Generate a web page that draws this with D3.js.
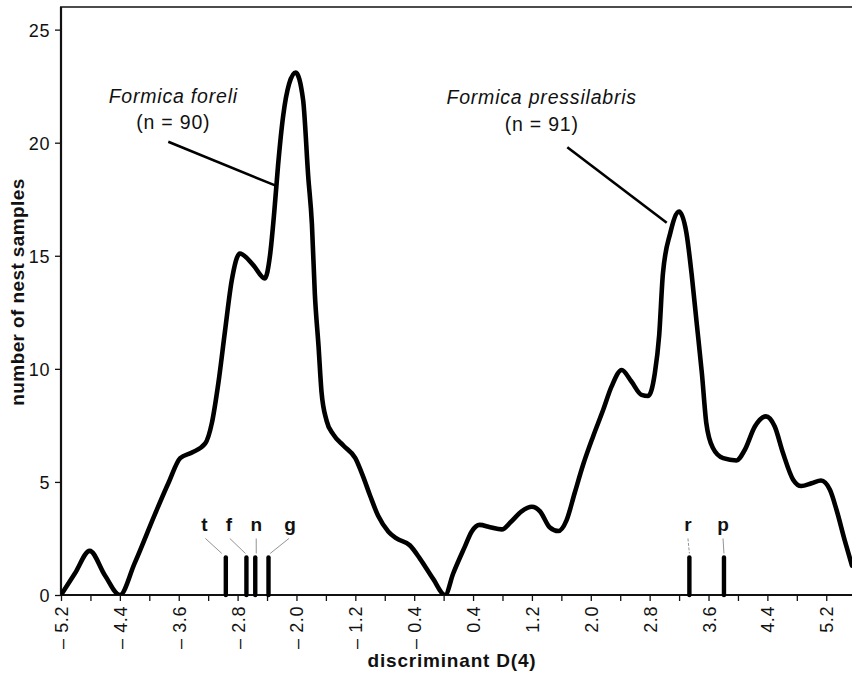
<!DOCTYPE html>
<html>
<head>
<meta charset="utf-8">
<script src="https://cdn.jsdelivr.net/npm/d3@7"></script>
<style>
  html, body { margin: 0; padding: 0; background: #fff; }
  svg { display: block; }
  text { font-family: "Liberation Sans", Arial, Helvetica, sans-serif; fill: #111; }
</style>
</head>
<body>
<svg id="chart" width="852" height="674"></svg>
<script>
// ---------- data ----------
const discriminant = [-5.20, -5.01, -4.81, -4.60, -4.40, -4.20, -3.92, -3.74, -3.58, -3.42, -3.24, -3.15, -3.06, -2.97, -2.88, -2.77,
  -2.59, -2.43, -2.36, -2.30, -2.25, -2.18, -2.10, -2.01, -1.91, -1.84, -1.79, -1.75, -1.70, -1.66, -1.59, -1.50, -1.36,
  -1.20, -1.09, -1.00, -0.89, -0.75, -0.64, -0.46, -0.32, -0.14, 0.02, 0.13, 0.29, 0.38, 0.49, 0.63, 0.79, 0.92, 1.06,
  1.20, 1.31, 1.44, 1.56, 1.67, 1.78, 1.90, 2.03, 2.17, 2.28, 2.42, 2.55, 2.69, 2.78, 2.87, 2.93, 2.98, 3.08, 3.20,
  3.30, 3.37, 3.44, 3.51, 3.57, 3.66, 3.80, 3.98, 4.09, 4.23, 4.38, 4.50, 4.61, 4.75, 4.86, 5.00, 5.13, 5.25, 5.34,
  5.45, 5.55];
const nestSamples = [0, 0.96, 1.95, 0.85, 0, 1.4, 3.6, 4.95, 6.05, 6.3, 6.7, 7.6, 9.4, 11.7, 13.9, 15.1,
  14.6, 14.0, 15.0, 17.0, 19.0, 21.2, 22.6, 23.1, 21.9, 18.5, 16.4, 13.3, 11.0, 9.0, 7.7, 7.1, 6.6,
  6.05, 5.2, 4.4, 3.5, 2.8, 2.5, 2.2, 1.6, 0.7, 0, 0.95, 2.15, 2.8, 3.1, 3.0, 2.9, 3.25, 3.7,
  3.9, 3.7, 3.0, 2.83, 3.3, 4.5, 5.8, 7.0, 8.2, 9.2, 9.95, 9.45, 8.85, 8.8, 9.8, 11.5, 14.2, 16.0, 16.95,
  16.0, 14.2, 12.0, 9.8, 7.6, 6.5, 6.05, 5.95, 6.4, 7.45, 7.9, 7.45, 6.3, 5.1, 4.82, 4.94, 5.06, 4.65, 3.76,
  2.43, 1.3];

const markerNames = ["t", "f", "n", "g", "r", "p"];
const markerValues = [-2.96, -2.68, -2.56, -2.38, 3.34, 3.81];
const markerHeight = 1.66;

const yTicks = [0, 5, 10, 15, 20, 25];
const xTicks = [-5.2, -4.8, -4.4, -4.0, -3.6, -3.2, -2.8, -2.4, -2.0, -1.6, -1.2, -0.8, -0.4, 0.0,
  0.4, 0.8, 1.2, 1.6, 2.0, 2.4, 2.8, 3.2, 3.6, 4.0, 4.4, 4.8, 5.2];
const xTickLabels = ["– 5.2", "– 4.4", "– 3.6", "– 2.8", "– 2.0", "– 1.2", "– 0.4", "0.4", "1.2", "2.0", "2.8", "3.6", "4.4", "5.2"];

const speciesNames = ["Formica foreli", "Formica pressilabris"];
const speciesCounts = ["(n = 90)", "(n = 91)"];

const xTitle = "discriminant D(4)";
const yTitle = "number of nest samples";

// ---------- layout ----------
const mLeft = 61, mRight = 852, mTop = 7, mBottom = 595;
const svg = d3.select("#chart");
const x = d3.scaleLinear().domain([-5.2, 5.55]).range([mLeft, mRight]);
const y = d3.scaleLinear().domain([0, 26]).range([mBottom, mTop]);

svg.append("defs").append("clipPath").attr("id", "plotclip")
  .append("rect").attr("x", mLeft).attr("y", 0).attr("width", mRight - mLeft).attr("height", mBottom);

// ---------- axes ----------
const yAxis = d3.axisLeft(y).tickValues(yTicks).tickSize(6).tickPadding(5).tickFormat(d3.format("d"));
const gy = svg.append("g").attr("transform", `translate(${mLeft},0)`).call(yAxis);
gy.select(".domain").remove();
gy.selectAll(".tick line").attr("stroke", "#111").attr("stroke-width", 1.3);
gy.selectAll(".tick text").attr("font-size", 18).attr("font-family", "Liberation Sans, Arial, sans-serif")
  .attr("fill", "#111").attr("letter-spacing", 0.6).attr("dy", "0.36em");

const labelFor = d3.scaleOrdinal()
  .domain(xTicks.filter((d, i) => i % 2 === 0).map(d => d.toFixed(1)))
  .range(xTickLabels);
const xAxis = d3.axisBottom(x).tickValues(xTicks).tickSize(6)
  .tickFormat((d, i) => i % 2 === 0 ? labelFor(d.toFixed(1)) : "");
const gx = svg.append("g").attr("transform", `translate(0,${mBottom})`).call(xAxis);
gx.select(".domain").remove();
gx.selectAll(".tick line").attr("stroke", "#111").attr("stroke-width", 1.3);
gx.selectAll(".tick text")
  .attr("font-size", 18).attr("font-family", "Liberation Sans, Arial, sans-serif").attr("fill", "#111")
  .attr("letter-spacing", 0.6)
  .attr("text-anchor", "end")
  .attr("transform", "rotate(-90)")
  .attr("x", -11).attr("y", 0).attr("dy", "0.36em");

// frame lines
svg.append("line").attr("x1", mLeft).attr("x2", mRight).attr("y1", mBottom).attr("y2", mBottom)
  .attr("stroke", "#111").attr("stroke-width", 2.2);
svg.append("line").attr("x1", mLeft).attr("x2", mLeft).attr("y1", mTop).attr("y2", mBottom + 1)
  .attr("stroke", "#111").attr("stroke-width", 2.2);
svg.append("line").attr("x1", mLeft - 1).attr("x2", mRight).attr("y1", mTop).attr("y2", mTop)
  .attr("stroke", "#111").attr("stroke-width", 1.6);

// axis titles
svg.append("text").attr("x", 452).attr("y", 667).attr("text-anchor", "middle")
  .attr("font-size", 19).attr("font-weight", "bold").attr("letter-spacing", 0.8).text(xTitle);
svg.append("text").attr("transform", "translate(24,292) rotate(-90)").attr("text-anchor", "middle")
  .attr("font-size", 19).attr("font-weight", "bold").attr("letter-spacing", 0.4).text(yTitle);

// ---------- curve ----------
const pts = discriminant.map((d, i) => [d, nestSamples[i]]);
const line = d3.line().x(d => x(d[0])).y(d => y(d[1])).curve(d3.curveMonotoneX);
svg.append("path").datum(pts).attr("clip-path", "url(#plotclip)")
  .attr("d", line).attr("fill", "none").attr("stroke", "#000")
  .attr("stroke-width", 4.6).attr("stroke-linejoin", "round").attr("stroke-linecap", "round");

// ---------- markers ----------
// label offsets (px) relative to each marker bar
const labelDx = [-21.5, -17.5, 1, 21.5, -1.5, -1];
const leaderDx = [-4, -1, 1, 1.7, 0, 0];
const mg = svg.append("g");
markerNames.forEach((name, i) => {
  const mx = x(markerValues[i]);
  const topY = y(markerHeight);
  mg.append("line").attr("x1", mx).attr("x2", mx).attr("y1", mBottom).attr("y2", topY)
    .attr("stroke", "#000").attr("stroke-width", 4.4).attr("stroke-linecap", "round");
  const lx = mx + labelDx[i];
  mg.append("text").attr("x", lx).attr("y", topY - 26).attr("text-anchor", "middle")
    .attr("font-size", 19).attr("font-weight", "bold").text(name);
  mg.append("line")
    .attr("x1", lx + (labelDx[i] !== 0 ? -labelDx[i] * 0.05 : 0)).attr("y1", topY - 19)
    .attr("x2", mx + leaderDx[i]).attr("y2", topY - 4)
    .attr("stroke", "#777").attr("stroke-width", 0.8)
    .attr("stroke-dasharray", name === "r" ? "3,1.5" : null);
});

// ---------- species annotations ----------
const annoText = [[-3.674, 21.77], [1.333, 21.71]];
const annoLine = [[[-3.742, 20.04], [-2.282, 18.1]], [[1.681, 19.8], [3.032, 16.46]]];
speciesNames.forEach((nm, i) => {
  const cx = x(annoText[i][0]);
  const by = y(annoText[i][1]);
  svg.append("text").attr("x", cx).attr("y", by).attr("text-anchor", "middle")
    .attr("font-size", 19.5).attr("font-style", "italic").attr("letter-spacing", 0.8).text(nm);
  svg.append("text").attr("x", cx).attr("y", by + 26.6).attr("text-anchor", "middle")
    .attr("font-size", 19.5).attr("letter-spacing", 0.8).text(speciesCounts[i]);
  svg.append("line")
    .attr("x1", x(annoLine[i][0][0])).attr("y1", y(annoLine[i][0][1]))
    .attr("x2", x(annoLine[i][1][0])).attr("y2", y(annoLine[i][1][1]))
    .attr("stroke", "#000").attr("stroke-width", 2.6);
});
</script>
</body>
</html>
